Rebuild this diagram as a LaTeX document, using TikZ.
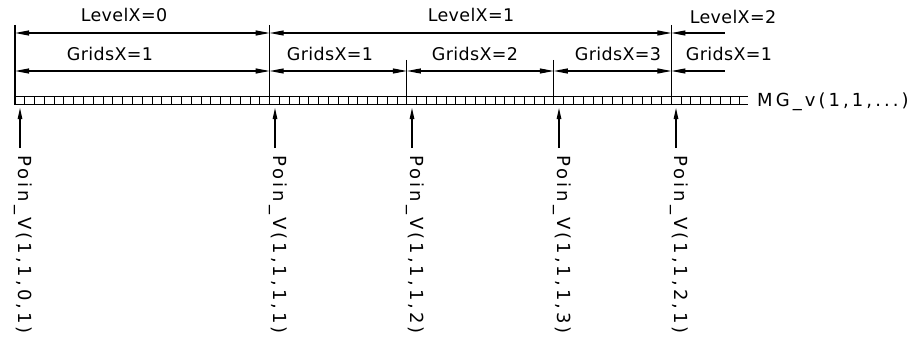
\documentclass[tikz,border=0pt]{standalone}
\usepackage{fontspec}
\setmainfont{DejaVu Sans}
\newfontfamily\cadfont[LetterSpace=2]{DejaVu Sans}
\newfontfamily\cadwide[LetterSpace=17]{DejaVu Sans}
\usetikzlibrary{arrows.meta}
\begin{document}
\begin{tikzpicture}[x=1pt,y=-1pt,
  tip/.tip={Triangle[length=14pt,width=5pt]},
  dimline/.style={line width=1.1pt},
  extline/.style={line width=1.1pt},
  cell/.style={line width=1pt},
  lbl/.style={inner sep=0pt, font=\cadfont\fontsize{17.5}{20}\selectfont},
  plbl/.style={inner sep=0pt, rotate=-90, anchor=west, font=\cadwide\fontsize{18}{20}\selectfont},
  uparrow/.style={line width=1.1pt, -{Triangle[length=11pt,width=4.5pt]}}
]
\useasboundingbox (0,0) rectangle (919,345);
% extension lines
\draw[extline] (15,25) -- (15,105);
\draw[extline] (269.7,25) -- (269.7,97);
\draw[extline] (406.9,60) -- (406.9,97);
\draw[extline] (553.8,60) -- (553.8,97);
\draw[extline] (671.4,25) -- (671.4,97);
% level dimension line
\coordinate (l0) at (15,33);
\coordinate (l1) at (269.7,33);
\coordinate (l2) at (671.4,33);
\coordinate (l3) at (725,33);
\draw[dimline,tip-tip] (l0) -- (l1);
\draw[dimline,tip-tip] (l1) -- (l2);
\draw[dimline,tip-] (l2) -- (l3);
% grids dimension line
\coordinate (g0) at (15,71);
\coordinate (g1) at (269.7,71);
\coordinate (g2) at (406.9,71);
\coordinate (g3) at (553.8,71);
\coordinate (g4) at (671.4,71);
\coordinate (g5) at (725,71);
\draw[dimline,tip-tip] (g0) -- (g1);
\draw[dimline,tip-tip] (g1) -- (g2);
\draw[dimline,tip-tip] (g2) -- (g3);
\draw[dimline,tip-tip] (g3) -- (g4);
\draw[dimline,tip-] (g4) -- (g5);
% labels
\node[lbl] (L0) at (124,15) {LevelX=0};
\node[lbl] (L1) at (471,15) {LevelX=1};
\node[lbl] (L2) at (733,17) {LevelX=2};
\node[lbl] (G1a) at (110,54) {GridsX=1};
\node[lbl] (G1b) at (330,54) {GridsX=1};
\node[lbl] (G2) at (475,54) {GridsX=2};
\node[lbl] (G3) at (618,54) {GridsX=3};
\node[lbl] (G1c) at (729,54) {GridsX=1};
% strip of cells
\draw[cell] (15,97) -- (748,97);
\draw[cell] (15,105) -- (748,105);
\foreach \i in {0,...,74} \draw[cell] (15+\i*9.797,97) -- ++(0,8);
\node[inner sep=0pt, anchor=west, font=\cadwide\fontsize{18}{20}\selectfont] (MG) at (757,102) {MG\_v(1,1,...)};
% pointers
\foreach \x/\t/\n in {20/{Poin\_V(1,1,0,1)}/p0, 275/{Poin\_V(1,1,1,1)}/p1, 412/{Poin\_V(1,1,1,2)}/p2, 559/{Poin\_V(1,1,1,3)}/p3, 676/{Poin\_V(1,1,2,1)}/p4}{
  \coordinate (\n top) at (\x,108);
  \coordinate (\n bot) at (\x,148);
  \draw[uparrow] (\n bot) -- (\n top);
  \node[plbl] (\n) at (\x+3,155) {\t};
}
\end{tikzpicture}
\end{document}
